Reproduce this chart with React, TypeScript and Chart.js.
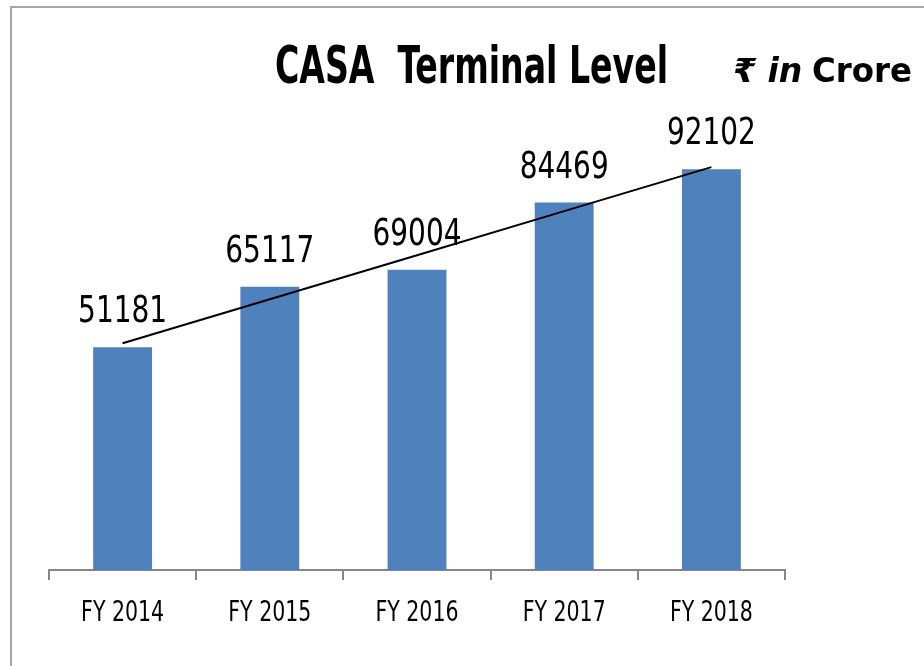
import React, { useEffect, useRef } from "react";
import { Chart, registerables } from "chart.js";

Chart.register(...registerables);

// ---- data ----
const categories = ["FY 2014", "FY 2015", "FY 2016", "FY 2017", "FY 2018"];
const casaValues = [51181, 65117, 69004, 84469, 92102];
const titleText = "CASA  Terminal Level";
const unitPrefix = "₹ in";
const unitText = "Crore";
const yMin = 0;
const yMax = 100000;

// Excel-style linear trendline (least squares over the series)
function linearTrend(vals: number[]): number[] {
  const n = vals.length;
  const xs = vals.map((_, i) => i);
  const mx = xs.reduce((a, b) => a + b, 0) / n;
  const my = vals.reduce((a, b) => a + b, 0) / n;
  let num = 0;
  let den = 0;
  for (let i = 0; i < n; i++) {
    num += (xs[i] - mx) * (vals[i] - my);
    den += (xs[i] - mx) * (xs[i] - mx);
  }
  const slope = num / den;
  const icpt = my - slope * mx;
  return xs.map((x) => icpt + slope * x);
}
const trendValues = linearTrend(casaValues);

const NARROW = "'Liberation Sans Narrow', 'DejaVu Sans Condensed', 'Liberation Sans', sans-serif";
const BAR_BLUE = "#4F81BD";
const AXIS_GREY = "#868686";

const labelPlugin = {
  id: "valueLabels",
  afterDatasetsDraw(chart: any) {
    const ctx = chart.ctx;
    const meta = chart.getDatasetMeta(0);
    ctx.save();
    ctx.font = `37px ${NARROW}`;
    ctx.fillStyle = "#000";
    ctx.textAlign = "center";
    ctx.textBaseline = "alphabetic";
    meta.data.forEach((bar: any, i: number) => {
      ctx.fillText(String(casaValues[i]), bar.x, bar.y - 25, 89);
    });
    // category labels under the axis
    const xScale = chart.scales.x;
    ctx.font = `28px ${NARROW}`;
    categories.forEach((c, i) => {
      ctx.fillText(c, xScale.getPixelForValue(i), xScale.top + 51, 83);
    });
    ctx.restore();
  },
};

const headerPlugin = {
  id: "header",
  afterDraw(chart: any) {
    const ctx = chart.ctx;
    ctx.save();
    ctx.fillStyle = "#000";
    ctx.textBaseline = "alphabetic";
    ctx.textAlign = "center";
    ctx.font = `bold 52px ${NARROW}`;
    ctx.fillText(titleText, 471.5, 83, 393);
    ctx.textAlign = "left";
    ctx.font = `italic bold 33px 'DejaVu Sans', 'Noto Sans', sans-serif`;
    ctx.fillText(unitPrefix, 733, 82);
    ctx.font = `bold 33px 'DejaVu Sans', 'Noto Sans', sans-serif`;
    ctx.fillText(unitText, 812, 82, 100);
    ctx.restore();
  },
};

export default function App() {
  const ref = useRef<HTMLCanvasElement | null>(null);

  useEffect(() => {
    if (!ref.current) return;
    const chart = new Chart(ref.current, {
      type: "bar",
      data: {
        labels: categories,
        datasets: [
          {
            type: "bar",
            label: "CASA",
            data: casaValues,
            backgroundColor: BAR_BLUE,
            borderWidth: 0,
            categoryPercentage: 1,
            barPercentage: 0.4,
            order: 2,
          },
          {
            type: "line",
            label: "Trend",
            data: trendValues,
            borderColor: "#000",
            borderWidth: 2,
            pointRadius: 0,
            fill: false,
            tension: 0,
            order: 1,
          } as any,
        ],
      },
      options: {
        responsive: false,
        animation: false,
        layout: { padding: { left: 49, right: 139, top: 135, bottom: 0 } },
        plugins: {
          legend: { display: false },
          title: { display: false },
          tooltip: { enabled: false },
        },
        scales: {
          x: {
            offset: true,
            grid: {
              offset: true,
              drawOnChartArea: false,
              drawTicks: true,
              tickLength: 10,
              color: AXIS_GREY,
              lineWidth: 2,
            },
            border: { display: true, color: AXIS_GREY, width: 2 },
            ticks: {
              display: false,
              font: { family: NARROW, size: 26 },
            },
            afterFit: (scale: any) => {
              scale.height = 96;
            },
          },
          y: {
            display: false,
            min: yMin,
            max: yMax,
          },
        },
      },
      plugins: [labelPlugin, headerPlugin],
    });
    return () => chart.destroy();
  }, []);

  return (
    <>
      <canvas
        ref={ref}
        width={924}
        height={666}
        style={{ position: "fixed", left: 0, top: 0, width: 924, height: 666 }}
      />
      <div
        style={{
          position: "fixed",
          left: 10,
          top: 6,
          width: 912,
          height: 658,
          borderLeft: "2px solid #a6a6a6",
          borderTop: "2px solid #a6a6a6",
          pointerEvents: "none",
        }}
      />
    </>
  );
}
